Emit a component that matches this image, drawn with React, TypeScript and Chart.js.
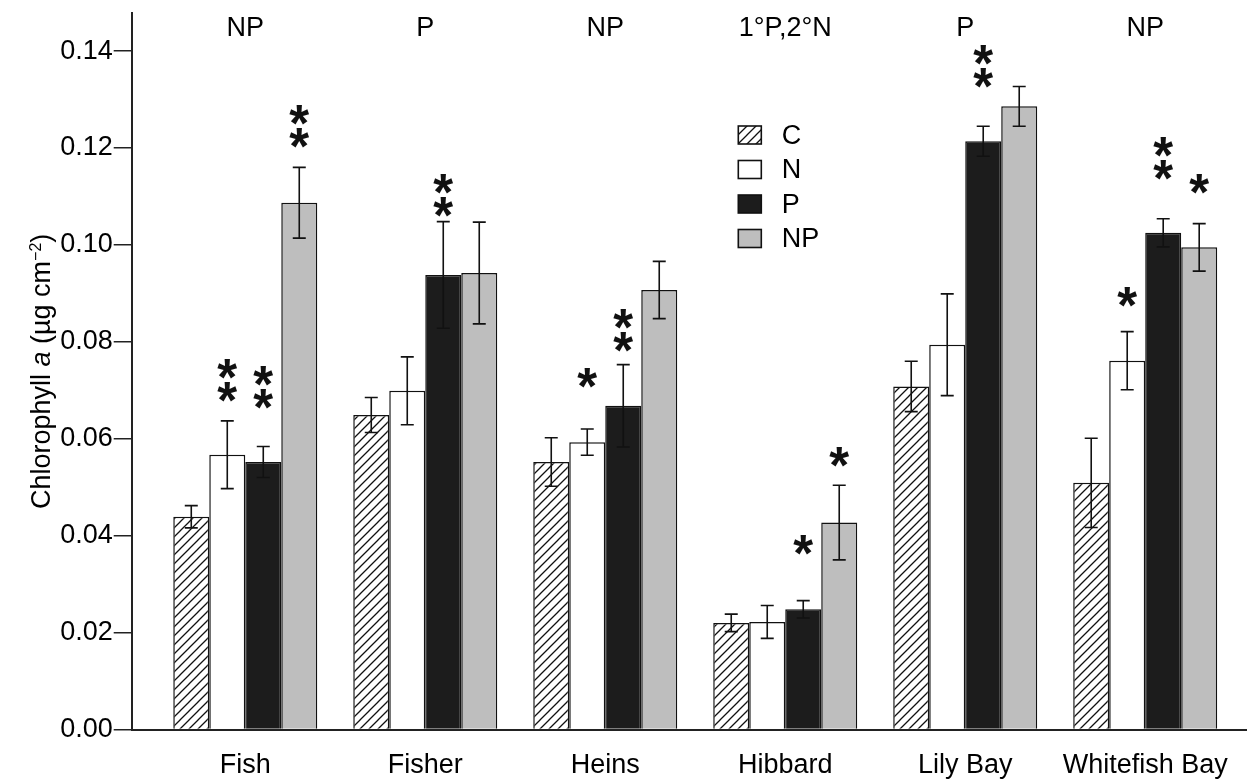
import React, { useEffect, useRef } from "react";
import { Chart, registerables } from "chart.js";

Chart.register(...registerables);

// ---------- data ----------
const sites = ["Fish", "Fisher", "Heins", "Hibbard", "Lily Bay", "Whitefish Bay"];
const limitation = ["NP", "P", "NP", "1°P,2°N", "P", "NP"];
const treatments = ["C", "N", "P", "NP"];

const meanC = [0.0439, 0.0649, 0.0552, 0.022, 0.0708, 0.0509];
const meanN = [0.0567, 0.0699, 0.0593, 0.0222, 0.0794, 0.0761];
const meanP = [0.0552, 0.0938, 0.0668, 0.0248, 0.1214, 0.1025];
const meanNP = [0.1087, 0.0942, 0.0907, 0.0427, 0.1286, 0.0995];

const seC = [0.0023, 0.0036, 0.005, 0.0018, 0.0052, 0.0092];
const seN = [0.007, 0.007, 0.0027, 0.0034, 0.0105, 0.006];
const seP = [0.0032, 0.011, 0.0085, 0.0018, 0.0031, 0.0029];
const seNP = [0.0073, 0.0105, 0.0059, 0.0077, 0.0041, 0.0049];

// number of significance asterisks and value of the lowest asterisk
const sigC = [0, 0, 0, 0, 0, 0];
const sigN = [2, 0, 1, 0, 0, 1];
const sigP = [2, 2, 2, 1, 2, 2];
const sigNP = [2, 0, 0, 1, 0, 1];
const starC = [null, null, null, null, null, null];
const starN = [0.0696, null, 0.0725, null, null, 0.0892];
const starP = [0.0683, 0.1078, 0.0799, 0.0381, 0.1345, 0.1155];
const starNP = [0.122, null, null, 0.0562, null, 0.1126];

const yTicks = [0, 0.02, 0.04, 0.06, 0.08, 0.1, 0.12, 0.14];
const yMax = 0.1478;

// ---------- styling ----------
const FONT = '"Liberation Sans", Arial, Helvetica, sans-serif';
const INK = "#111111";

function makeHatch(): CanvasPattern | string {
  const c = document.createElement("canvas");
  const s = 9;
  c.width = s;
  c.height = s;
  const g = c.getContext("2d");
  if (!g) return "#ffffff";
  g.fillStyle = "#ffffff";
  g.fillRect(0, 0, s, s);
  g.strokeStyle = INK;
  g.lineWidth = 1.3;
  g.beginPath();
  g.moveTo(-1, s + 1);
  g.lineTo(s + 1, -1);
  g.moveTo(-2, 2);
  g.lineTo(2, -2);
  g.moveTo(s - 2, s + 2);
  g.lineTo(s + 2, s - 2);
  g.stroke();
  const p = g.createPattern(c, "repeat");
  return p || "#ffffff";
}

function drawStar(ctx: CanvasRenderingContext2D, cx: number, cy: number) {
  ctx.save();
  ctx.fillStyle = INK;
  ctx.font = `bold 51px ${FONT}`;
  ctx.textAlign = "left";
  ctx.textBaseline = "alphabetic";
  const m = ctx.measureText("*");
  const w = m.actualBoundingBoxRight + m.actualBoundingBoxLeft;
  const h = m.actualBoundingBoxAscent + m.actualBoundingBoxDescent;
  const x = cx - w / 2 + m.actualBoundingBoxLeft;
  const y = cy + h / 2 - m.actualBoundingBoxDescent;
  ctx.fillText("*", x, y);
  ctx.restore();
}

export default function App() {
  const ref = useRef<HTMLCanvasElement | null>(null);

  useEffect(() => {
    if (!ref.current) return;
    const hatch = makeHatch();
    const fills: (CanvasPattern | string)[] = [hatch, "#ffffff", "#1c1c1c", "#bebebe"];
    const means = [meanC, meanN, meanP, meanNP];
    const ses = [seC, seN, seP, seNP];
    const sigs = [sigC, sigN, sigP, sigNP];
    const stars = [starC, starN, starP, starNP];

    const overlay = {
      id: "overlay",
      afterDatasetsDraw(chart: any) {
        const ctx: CanvasRenderingContext2D = chart.ctx;
        const xs = chart.scales.x;
        const ys = chart.scales.y;
        const area = chart.chartArea;
        ctx.save();

        // error bars
        for (let d = 0; d < 4; d++) {
          const meta = chart.getDatasetMeta(d);
          meta.data.forEach((bar: any, i: number) => {
            const m = means[d][i];
            const s = ses[d][i];
            const yt = ys.getPixelForValue(m + s);
            const yb = ys.getPixelForValue(m - s);
            const cx = bar.x;
            ctx.strokeStyle = INK;
            ctx.lineWidth = 1.6;
            ctx.beginPath();
            ctx.moveTo(cx, yt);
            ctx.lineTo(cx, yb);
            ctx.moveTo(cx - 6.5, yt);
            ctx.lineTo(cx + 6.5, yt);
            ctx.moveTo(cx - 6.5, yb);
            ctx.lineTo(cx + 6.5, yb);
            ctx.stroke();

            const n = sigs[d][i];
            const sv = stars[d][i];
            if (n > 0 && sv !== null) {
              const base = ys.getPixelForValue(sv);
              for (let k = 0; k < n; k++) drawStar(ctx, cx, base - k * 23);
            }
          });
        }

        // nutrient limitation labels
        ctx.fillStyle = "#000";
        ctx.font = `27px ${FONT}`;
        ctx.textAlign = "center";
        ctx.textBaseline = "middle";
        limitation.forEach((t, i) => {
          ctx.fillText(t, xs.getPixelForValue(i), area.top + 15.5);
        });

        // legend
        const lx = 738.3;
        const ly0 = 135;
        const lstep = 34.5;
        treatments.forEach((t, k) => {
          const cy = ly0 + k * lstep;
          ctx.fillStyle = fills[k] as any;
          ctx.fillRect(lx, cy - 9, 23, 18);
          ctx.strokeStyle = INK;
          ctx.lineWidth = 1.6;
          ctx.strokeRect(lx, cy - 9, 23, 18);
          ctx.fillStyle = "#000";
          ctx.font = `27px ${FONT}`;
          ctx.textAlign = "left";
          ctx.textBaseline = "middle";
          ctx.fillText(t, 781.7, cy + 1.3);
        });

        // y-axis title
        const cyT = (area.top + area.bottom) / 2;
        ctx.translate(50, cyT);
        ctx.rotate(-Math.PI / 2);
        ctx.textAlign = "left";
        ctx.textBaseline = "alphabetic";
        const parts: { t: string; f: string; dy: number }[] = [
          { t: "Chlorophyll ", f: `27px ${FONT}`, dy: 0 },
          { t: "a", f: `italic 27px ${FONT}`, dy: 0 },
          { t: " (\u00b5g cm", f: `27px ${FONT}`, dy: 0 },
          { t: "\u22122", f: `16px ${FONT}`, dy: -9 },
          { t: ")", f: `27px ${FONT}`, dy: 0 },
        ];
        let total = 0;
        parts.forEach((p) => {
          ctx.font = p.f;
          total += ctx.measureText(p.t).width;
        });
        let px = -total / 2;
        parts.forEach((p) => {
          ctx.font = p.f;
          ctx.fillText(p.t, px, p.dy);
          px += ctx.measureText(p.t).width;
        });

        ctx.restore();
      },
    };

    const chart = new Chart(ref.current, {
      type: "bar",
      data: {
        datasets: treatments.map((t, d) => ({
          label: t,
          data: means[d].map((v, i) => ({ x: i, y: v })),
          backgroundColor: fills[d] as any,
          borderColor: INK,
          borderWidth: 1.5,
          categoryPercentage: 0.8,
          barPercentage: 1.0,
        })),
      },
      options: {
        responsive: false,
        animation: false,
        events: [],
        layout: { padding: { top: 13.3, right: 2, left: 0, bottom: 0 } },
        plugins: {
          legend: { display: false },
          tooltip: { enabled: false },
          title: { display: false },
        },
        scales: {
          x: {
            type: "linear",
            min: -0.631,
            max: 5.56,
            offset: false,
            grid: { display: false, drawTicks: false, offset: false },
            border: { display: true, color: "#222", width: 2 },
            afterBuildTicks: (scale: any) => {
              scale.ticks = sites.map((_, i) => ({ value: i }));
            },
            afterFit: (scale: any) => {
              scale.height = 53.5;
              scale.paddingLeft = 0;
              scale.paddingRight = 0;
            },
            ticks: {
              autoSkip: false,
              maxRotation: 0,
              padding: 20,
              color: "#000",
              font: { family: FONT, size: 27 },
              callback: (v: any) => sites[Math.round(Number(v))] ?? "",
            },
          },
          y: {
            type: "linear",
            min: 0,
            max: yMax,
            grid: {
              display: true,
              drawOnChartArea: false,
              drawTicks: true,
              tickLength: 18,
              color: "#222",
              lineWidth: 1.5,
            },
            border: { display: true, color: "#222", width: 2 },
            afterBuildTicks: (scale: any) => {
              scale.ticks = yTicks.map((v) => ({ value: v }));
            },
            afterFit: (scale: any) => {
              scale.width = 131.7;
              scale.paddingTop = 0;
              scale.paddingBottom = 0;
            },
            ticks: {
              padding: 1,
              color: "#000",
              font: { family: FONT, size: 27 },
              callback: (v: any) => Number(v).toFixed(2),
            },
          },
        },
      },
      plugins: [overlay],
    });

    return () => chart.destroy();
  }, []);

  return (
    <div style={{ position: "fixed", left: 0, top: 0, width: 1248, height: 783, background: "#fff" }}>
      <canvas ref={ref} width={1248} height={783} style={{ display: "block" }} />
    </div>
  );
}
